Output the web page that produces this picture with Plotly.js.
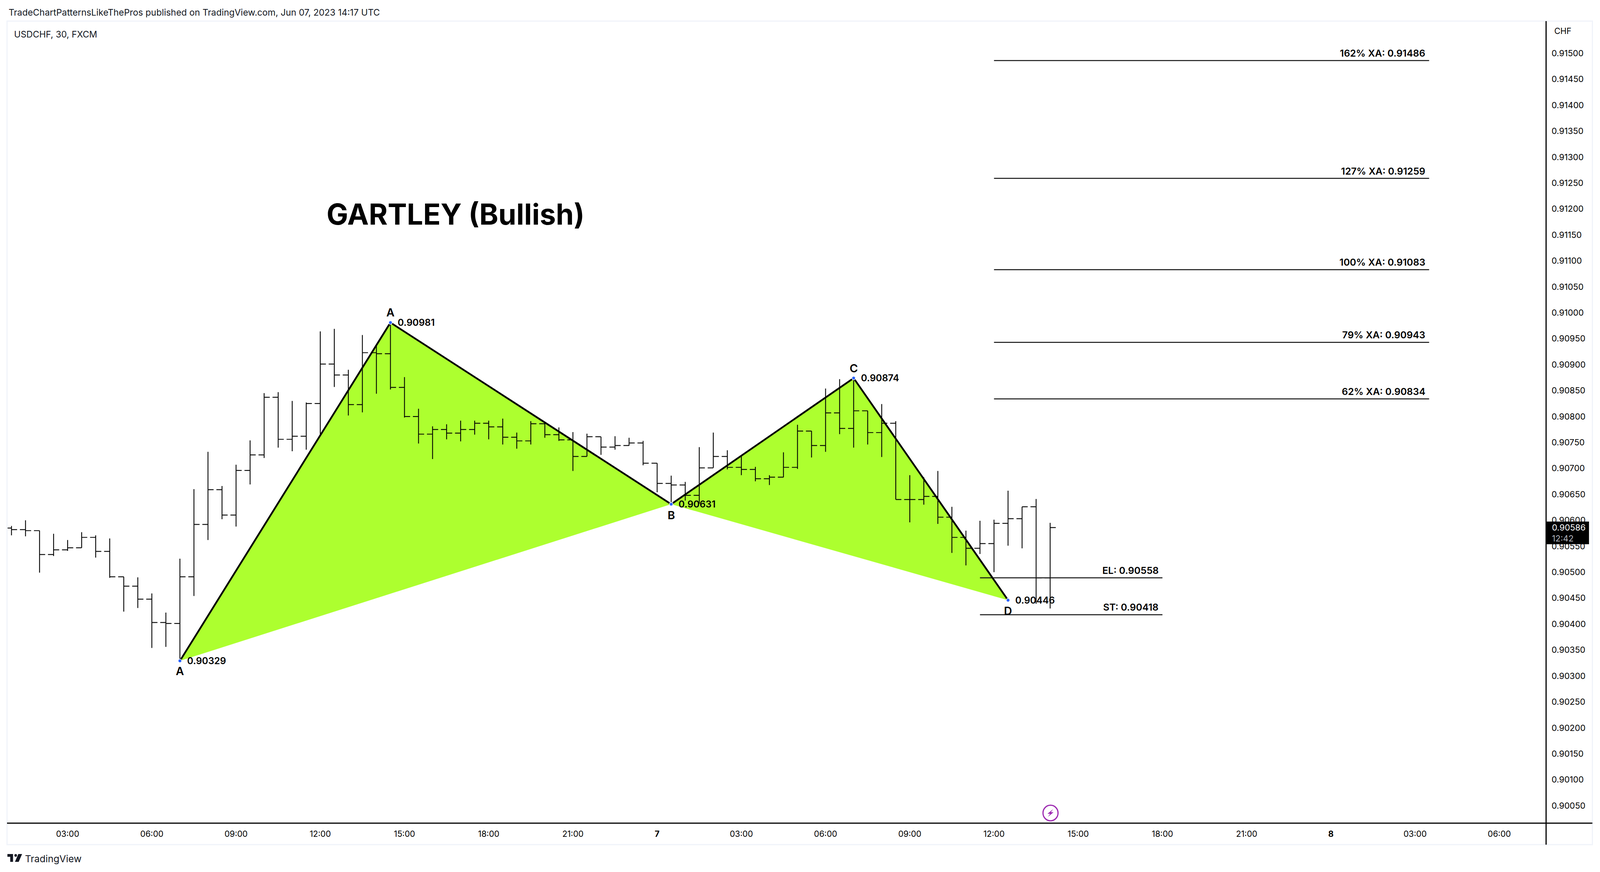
<!DOCTYPE html>
<html>
<head>
<meta charset="utf-8">
<script src="https://cdn.plot.ly/plotly-3.0.1.min.js"></script>
<style>html,body{margin:0;padding:0;background:#fff;overflow:hidden}</style>
</head>
<body>
<div id="graphDiv"></div>
<script>
// 30 minute bars, first one is Jun 6 01:00
var firstBar = Date.UTC(2023, 5, 6, 1, 0);

var opens = [0.90585,0.90582,0.90580,0.90534,0.90543,0.90547,0.90567,0.90540,0.90491,0.90473,
  0.90448,0.90403,0.90401,0.90491,0.90592,0.90659,0.90610,0.90696,0.90726,0.90837,
  0.90756,0.90762,0.90825,0.90901,0.90880,0.90823,0.90923,0.90921,0.90856,0.90800,
  0.90766,0.90775,0.90768,0.90775,0.90787,0.90780,0.90760,0.90753,0.90786,0.90765,
  0.90755,0.90723,0.90761,0.90741,0.90744,0.90749,0.90710,0.90671,0.90668,0.90648,
  0.90701,0.90723,0.90702,0.90698,0.90680,0.90683,0.90702,0.90772,0.90744,0.90807,
  0.90777,0.90811,0.90769,0.90787,0.90640,0.90640,0.90646,0.90606,0.90567,0.90546,
  0.90555,0.90594,0.90603,0.90626,0.90489];
var highs = [0.90589,0.90600,0.90580,0.90574,0.90562,0.90577,0.90571,0.90565,0.90491,0.90490,
  0.90459,0.90422,0.90526,0.90660,0.90732,0.90666,0.90707,0.90754,0.90845,0.90847,
  0.90830,0.90827,0.90964,0.90969,0.90890,0.90957,0.90937,0.90981,0.90876,0.90815,
  0.90781,0.90785,0.90792,0.90792,0.90792,0.90796,0.90769,0.90791,0.90789,0.90779,
  0.90770,0.90767,0.90761,0.90762,0.90759,0.90753,0.90710,0.90686,0.90674,0.90741,
  0.90769,0.90735,0.90724,0.90703,0.90687,0.90731,0.90784,0.90772,0.90854,0.90872,
  0.90874,0.90811,0.90824,0.90791,0.90687,0.90683,0.90695,0.90626,0.90580,0.90599,
  0.90601,0.90657,0.90626,0.90641,0.90595];
var lows = [0.90571,0.90569,0.90499,0.90531,0.90541,0.90547,0.90528,0.90489,0.90424,0.90431,
  0.90354,0.90356,0.90329,0.90454,0.90562,0.90602,0.90588,0.90669,0.90720,0.90740,
  0.90733,0.90736,0.90764,0.90857,0.90802,0.90808,0.90844,0.90852,0.90798,0.90748,
  0.90718,0.90756,0.90752,0.90765,0.90756,0.90746,0.90738,0.90746,0.90759,0.90753,
  0.90695,0.90723,0.90726,0.90736,0.90744,0.90706,0.90654,0.90631,0.90638,0.90632,
  0.90701,0.90698,0.90687,0.90675,0.90668,0.90683,0.90699,0.90721,0.90732,0.90766,
  0.90740,0.90746,0.90722,0.90640,0.90596,0.90630,0.90593,0.90537,0.90513,0.90535,
  0.90500,0.90551,0.90546,0.90439,0.90430];
var closes = [0.90582,0.90580,0.90534,0.90543,0.90547,0.90567,0.90540,0.90491,0.90473,0.90448,
  0.90403,0.90401,0.90491,0.90592,0.90659,0.90610,0.90696,0.90726,0.90837,0.90756,
  0.90762,0.90825,0.90901,0.90880,0.90823,0.90923,0.90921,0.90856,0.90800,0.90766,
  0.90775,0.90768,0.90775,0.90787,0.90780,0.90760,0.90753,0.90786,0.90765,0.90755,
  0.90723,0.90761,0.90741,0.90744,0.90749,0.90710,0.90671,0.90668,0.90648,0.90701,
  0.90723,0.90702,0.90698,0.90680,0.90683,0.90702,0.90772,0.90744,0.90807,0.90777,
  0.90811,0.90769,0.90787,0.90640,0.90640,0.90646,0.90606,0.90567,0.90546,0.90555,
  0.90594,0.90603,0.90626,0.90489,0.90586];

// harmonic pattern points
var pointNames = ['A','A','B','C','D'];
var pointTimes = ['2023-06-06 07:00','2023-06-06 14:30','2023-06-07 00:30','2023-06-07 07:00','2023-06-07 12:30'];
var pointPrices = [0.90329,0.90981,0.90631,0.90874,0.90446];
var pointShifts = [-26,26,-28,25,-27];

// horizontal levels, the EL line sits at 0.90489 on the picture whatever its label says
var levelLabels = ['162% XA: 0.91486','127% XA: 0.91259','100% XA: 0.91083','79% XA: 0.90943','62% XA: 0.90834','EL: 0.90558','ST: 0.90418'];
var levelPrices = [0.91486,0.91259,0.91083,0.90943,0.90834,0.90489,0.90418];
var levelStarts = ['2023-06-07 12:00','2023-06-07 12:00','2023-06-07 12:00','2023-06-07 12:00','2023-06-07 12:00','2023-06-07 11:30','2023-06-07 11:30'];
var levelEnds = ['2023-06-08 03:30','2023-06-08 03:30','2023-06-08 03:30','2023-06-08 03:30','2023-06-08 03:30','2023-06-07 18:00','2023-06-07 18:00'];

var tickTimes = ['2023-06-06 03:00','2023-06-06 06:00','2023-06-06 09:00','2023-06-06 12:00','2023-06-06 15:00','2023-06-06 18:00','2023-06-06 21:00',
  '2023-06-07 00:00','2023-06-07 03:00','2023-06-07 06:00','2023-06-07 09:00','2023-06-07 12:00','2023-06-07 15:00','2023-06-07 18:00','2023-06-07 21:00',
  '2023-06-08 00:00','2023-06-08 03:00','2023-06-08 06:00'];
var tickLabels = ['03:00','06:00','09:00','12:00','15:00','18:00','21:00','<b>7</b>','03:00','06:00','09:00','12:00','15:00','18:00','21:00','<b>8</b>','03:00','06:00'];
var priceTicks = [0.9005,0.901,0.9015,0.902,0.9025,0.903,0.9035,0.904,0.9045,0.905,
  0.9055,0.906,0.9065,0.907,0.9075,0.908,0.9085,0.909,0.9095,0.91,
  0.9105,0.911,0.9115,0.912,0.9125,0.913,0.9135,0.914,0.9145,0.915];

var green = '#adff2f';
var font = 'Inter, "Liberation Sans", sans-serif';

var barTimes = opens.map(function(v, i) {
  return new Date(firstBar + i * 1800000).toISOString().slice(0, 16).replace('T', ' ');
});

// the window can come up narrower than the 4252 the chart was measured at,
// so everything horizontal goes through sx
var W = window.innerWidth, H = window.innerHeight;
var sx = W / 4252, sy = H / 2232;

// measured pixels to paper fractions, plot area is 19..4109 by 54..2107
function px(x) { return (x - 19) / (4109 - 19); }
function py(y) { return 1 - (y - 54) / (2107 - 54); }
function fs(n) { return n * sx; }

function triangle(a, b, c) {
  var p = [a, b, c].map(function(i) {
    return pointTimes[i].replace(' ', '_') + ' ' + pointPrices[i];
  });
  return 'M ' + p[0] + ' L ' + p[1] + ' L ' + p[2] + ' Z';
}

function pagePath(points) {
  return 'M ' + points.map(function(p) { return px(p[0]) + ' ' + py(p[1]); }).join(' L ') + ' Z';
}

var bars = {
  type: 'ohlc',
  x: barTimes,
  open: opens,
  high: highs,
  low: lows,
  close: closes,
  tickwidth: 0.4,
  increasing: {line: {color: '#000', width: 2.2}},
  decreasing: {line: {color: '#000', width: 2.2}},
  hoverinfo: 'skip'
};

var legLeft = {
  type: 'scatter', mode: 'lines',
  x: pointTimes.slice(0, 3), y: pointPrices.slice(0, 3),
  line: {color: '#000', width: 4.5}, hoverinfo: 'skip'
};
var legRight = {
  type: 'scatter', mode: 'lines',
  x: pointTimes.slice(2), y: pointPrices.slice(2),
  line: {color: '#000', width: 4.5}, hoverinfo: 'skip'
};
var dots = {
  type: 'scatter', mode: 'markers',
  x: pointTimes, y: pointPrices,
  marker: {color: '#2962ff', size: 9, line: {color: '#fff', width: 1.5}},
  hoverinfo: 'skip'
};

var data = [bars, legLeft, legRight];
levelLabels.forEach(function(label, i) {
  data.push({
    type: 'scatter', mode: 'lines',
    x: [levelStarts[i], levelEnds[i]], y: [levelPrices[i], levelPrices[i]],
    line: {color: '#111', width: 2.5}, hoverinfo: 'skip'
  });
});
data.push(dots);

var shapes = [
  {type: 'path', layer: 'below', xref: 'x', yref: 'y', path: triangle(0, 1, 2), fillcolor: green, line: {width: 0}},
  {type: 'path', layer: 'below', xref: 'x', yref: 'y', path: triangle(2, 3, 4), fillcolor: green, line: {width: 0}},
  // outer frame
  {type: 'rect', xref: 'paper', yref: 'paper', x0: px(19), x1: px(4232), y0: py(54), y1: py(2162), line: {color: '#f0f3fa', width: 3}},
  // axis lines run past each other like on the original
  {type: 'line', xref: 'paper', yref: 'paper', x0: px(19), x1: px(4232), y0: py(2107), y1: py(2107), line: {color: '#000', width: 3}},
  {type: 'line', xref: 'paper', yref: 'paper', x0: px(4109), x1: px(4109), y0: py(54), y1: py(2162), line: {color: '#000', width: 3}},
  // last price tag, covers the tick labels behind it
  {type: 'rect', xref: 'paper', yref: 'paper', x0: px(4109), x1: px(4223), y0: py(1335), y1: py(1393), fillcolor: '#000', line: {width: 0}},
  // lightning badge
  {type: 'circle', xref: 'paper', yref: 'paper', x0: px(2772), x1: px(2812), y0: py(2061), y1: py(2101), line: {color: '#9c27b0', width: 3}},
  {type: 'path', xref: 'paper', yref: 'paper', line: {width: 0}, fillcolor: '#9c27b0',
    path: pagePath([[2799,2071],[2784,2083],[2791,2083],[2785,2091],[2800,2079],[2793,2079]])},
  // TradingView logo
  {type: 'path', xref: 'paper', yref: 'paper', line: {width: 0}, fillcolor: '#131722',
    path: pagePath([[20,2186],[35,2186],[35,2206],[27.5,2206],[27.5,2193],[20,2193]])},
  {type: 'circle', xref: 'paper', yref: 'paper', line: {width: 0}, fillcolor: '#131722',
    x0: px(38.5), x1: px(45.5), y0: py(2186), y1: py(2193)},
  {type: 'path', xref: 'paper', yref: 'paper', line: {width: 0}, fillcolor: '#131722',
    path: pagePath([[49,2186],[59,2186],[50,2206],[40,2206]])}
];

function pageText(text, x, y, size, extra) {
  var a = {
    text: text, showarrow: false,
    xref: 'paper', yref: 'paper', x: px(x), y: py(y),
    xanchor: 'left', yanchor: 'middle',
    font: {family: font, size: fs(size), color: '#131722'}
  };
  for (var k in extra) a[k] = extra[k];
  return a;
}

var annotations = [
  pageText('TradeChartPatternsLikeThePros published on TradingView.com, Jun 07, 2023 14:17 UTC', 21, 32, 23.8),
  pageText('USDCHF, 30, FXCM', 36, 87, 23.6),
  pageText('TradingView', 65, 2198, 25.5),
  pageText('CHF', 4129, 79, 22, {font: {family: font, size: fs(22), color: '#000'}}),
  pageText('GARTLEY (Bullish)', 866, 548, 76.5, {font: {family: font, size: fs(76.5), color: '#000', weight: 700}}),
  pageText('0.90586<br><span style="color:#b2b5be">12:42</span>', 4124, 1364, 22.5, {
    font: {family: font, size: fs(22.5), color: '#fff'},
    align: 'left', borderpad: 0
  })
];

pointNames.forEach(function(name, i) {
  annotations.push({
    text: name, showarrow: false, x: pointTimes[i], y: pointPrices[i],
    yshift: pointShifts[i], xanchor: 'center', yanchor: 'middle',
    font: {family: font, size: fs(30), color: '#000', weight: 600}
  });
  annotations.push({
    text: pointPrices[i].toFixed(5), showarrow: false, x: pointTimes[i], y: pointPrices[i],
    xshift: 17 * sx, xanchor: 'left', yanchor: 'middle',
    font: {family: font, size: fs(25), color: '#000', weight: 600}
  });
});

levelLabels.forEach(function(label, i) {
  annotations.push({
    text: label, showarrow: false, x: levelEnds[i], y: levelPrices[i],
    xshift: -8 * sx, yshift: 19, xanchor: 'right', yanchor: 'middle',
    font: {family: font, size: fs(25.5), color: '#000', weight: 600}
  });
});

var layout = {
  width: W,
  height: H,
  autosize: false,
  margin: {l: 19 * sx, r: 143 * sx, t: 54 * sy, b: 125 * sy, pad: 0},
  paper_bgcolor: '#fff',
  plot_bgcolor: '#fff',
  showlegend: false,
  font: {family: font, color: '#000'},
  xaxis: {
    type: 'date',
    range: ['2023-06-06 00:50:30', '2023-06-08 07:40'],
    rangeslider: {visible: false},
    tickmode: 'array',
    tickvals: tickTimes,
    ticktext: tickLabels,
    ticks: '',
    showgrid: false,
    zeroline: false,
    showline: false,
    ticklabelstandoff: 13,
    tickfont: {family: font, size: fs(22), color: '#000'}
  },
  yaxis: {
    side: 'right',
    range: [0.900162, 0.915621],
    tickmode: 'array',
    tickvals: priceTicks,
    tickformat: '.5f',
    ticks: '',
    showgrid: false,
    zeroline: false,
    showline: false,
    ticklabelstandoff: 13,
    tickfont: {family: font, size: fs(22.5), color: '#000'}
  },
  shapes: shapes,
  annotations: annotations
};

Plotly.newPlot('graphDiv', data, layout, {displayModeBar: false, staticPlot: true});
</script>
</body>
</html>
